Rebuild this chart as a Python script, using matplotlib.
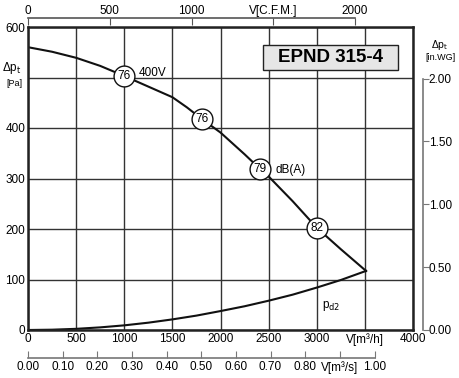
import numpy as np
import matplotlib
matplotlib.use("Agg")
import matplotlib.pyplot as plt
from matplotlib.patches import Rectangle

plt.rcParams['font.family'] = ['Liberation Sans', 'DejaVu Sans']

# Fan curve (total pressure)
flow = [0, 250, 500, 750, 1000, 1250, 1500, 1650, 1805, 2000, 2250, 2410, 2500, 2750, 3003, 3250, 3512]
pt = [560, 551, 539, 523, 503, 482, 461, 441, 418, 391, 348, 319, 304, 255, 202, 160, 117]
# Dynamic pressure curve
pd_flow = [0, 250, 500, 750, 1000, 1250, 1500, 1750, 2000, 2250, 2500, 2750, 3000, 3250, 3512]
pd2 = [0, 0.6, 2.3, 5.2, 9.2, 14.5, 21, 28.5, 37.5, 47, 58, 70, 84, 99, 117]
# Sound level markers
mark_flow = [1000, 1805, 2410, 3003]
mark_p = [503, 418, 319, 202]
mark_lbl = ["76", "76", "79", "82"]

x_ticks = [0, 500, 1000, 1500, 2000, 2500, 3000, 3500, 4000]
x_labels = ["0", "500", "1000", "1500", "2000", "2500", "3000", "V[m³/h]", "4000"]
y_ticks = [0, 100, 200, 300, 400, 500, 600]
y_labels = ["0", "100", "200", "300", "400", "", "600"]
cfm_ticks = [0, 500, 1000, 1500, 2000]
cfm_labels = ["0", "500", "1000", "V[C.F.M.]", "2000"]
ms_ticks = [0.0, 0.1, 0.2, 0.3, 0.4, 0.5, 0.6, 0.7, 0.8, 0.9, 1.0]
ms_labels = ["0.00", "0.10", "0.20", "0.30", "0.40", "0.50", "0.60", "0.70", "0.80", "V[m³/s]", "1.00"]
wg_ticks = [0.0, 0.5, 1.0, 1.5, 2.0]
wg_labels = ["0.00", "0.50", "1.00", "1.50", "2.00"]

W, H = 459, 378
PT = 0.72  # points per pixel at 100 dpi
fig = plt.figure(figsize=(W / 100, H / 100), dpi=100)
L, R, T, B = 28, 413, 27, 330
ax = fig.add_axes([L / W, 1 - B / H, (R - L) / W, (B - T) / H])
ax.set_xlim(0, 4000)
ax.set_ylim(0, 600)
ax.set_xticks(x_ticks)
ax.set_xticklabels(x_labels)
ax.set_yticks(y_ticks)
ax.set_yticklabels(y_labels)
ax.tick_params(length=0, labelsize=8.5, pad=2)
ax.grid(True, color='#333333', lw=1.0)
for s in ax.spines.values():
    s.set_linewidth(1.8)
    s.set_color('#222222')
    s.set_zorder(5)

ax.plot(flow, pt, color='#111111', lw=1.5, zorder=3)
ax.plot(pd_flow, pd2, color='#111111', lw=1.5, zorder=3)
for fx, fp, lb in zip(mark_flow, mark_p, mark_lbl):
    ax.plot(fx, fp, 'o', ms=15, mfc='white', mec='#111111', mew=1.0, zorder=4)
    ax.text(fx, fp, lb, ha='center', va='center', fontsize=8.5, zorder=5)

ax.text(1150, 509, "400V", fontsize=8.5, ha='left', va='center')
ax.text(2570, 316, "dB(A)", fontsize=8.5, ha='left', va='center')
ax.text(3050, 48, "p$_{\\mathrm{d2}}$", fontsize=8.5, ha='left', va='center')
ax.add_patch(Rectangle((2442, 515), 1402, 49, fc='#e6e6e6', ec='#222222', lw=1.0, zorder=6))
ax.text(3143, 539, "EPND 315-4", fontsize=13.5, fontweight='bold', ha='center', va='center', zorder=7)

fig.text(12 / W, 1 - 68 / H, "Δp$_\\mathrm{t}$", fontsize=8.5, ha='center', va='center')
fig.text(14 / W, 1 - 84 / H, "[Pa]", fontsize=6.5, ha='center', va='center')

# Right in.WG axis
axr = ax.twinx()
axr.set_ylim(0, 600 / 249.0)
axr.set_yticks(wg_ticks)
axr.set_yticklabels(wg_labels)
for k in ['top', 'bottom', 'left']:
    axr.spines[k].set_visible(False)
axr.spines['right'].set_position(('outward', 10 * PT))
axr.spines['right'].set_bounds(0, 2.0)
axr.spines['right'].set_color('#777777')
axr.spines['right'].set_linewidth(1.2)
axr.tick_params(axis='y', direction='out', length=4, color='#777777', labelsize=8.5, pad=0)
fig.text(440 / W, 1 - 45 / H, "Δp$_\\mathrm{t}$", fontsize=7.5, ha='center', va='center')
fig.text(440 / W, 1 - 58 / H, "[in.WG]", fontsize=6.5, ha='center', va='center')

# Top CFM axis
axt = ax.twiny()
axt.set_xlim(0, 4000 * 0.5886)
axt.set_xticks(cfm_ticks)
axt.set_xticklabels(cfm_labels)
for k in ['bottom', 'left', 'right']:
    axt.spines[k].set_visible(False)
axt.spines['top'].set_position(('outward', 9 * PT))
axt.spines['top'].set_bounds(0, 2000)
axt.spines['top'].set_color('#555555')
axt.spines['top'].set_linewidth(1.2)
axt.tick_params(axis='x', direction='in', length=5, color='#555555', labelsize=8.5, pad=1)

# Bottom m3/s axis
axb = ax.twiny()
axb.set_xlim(0, 4000 / 3600.0)
axb.xaxis.set_ticks_position('bottom')
axb.xaxis.set_label_position('bottom')
axb.set_xticks(ms_ticks)
axb.set_xticklabels(ms_labels)
for k in ['top', 'left', 'right']:
    axb.spines[k].set_visible(False)
axb.spines['bottom'].set_position(('outward', 28 * PT))
axb.spines['bottom'].set_bounds(0, 1.0)
axb.spines['bottom'].set_color('#777777')
axb.spines['bottom'].set_linewidth(1.2)
axb.tick_params(axis='x', direction='in', length=5, color='#777777', labelsize=8.5, pad=2)

fig.savefig("out.png", dpi=100)
